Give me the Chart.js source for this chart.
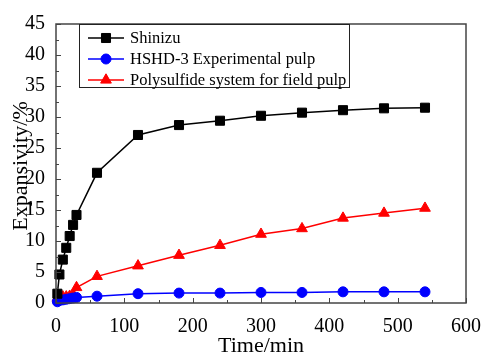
<!DOCTYPE html>
<html>
<head>
<meta charset="utf-8">
<script src="https://cdn.jsdelivr.net/npm/chart.js@4.4.0/dist/chart.umd.min.js"></script>
<style>
html, body { margin: 0; padding: 0; background: #fff; }
</style>
</head>
<body>
<canvas id="expChart" width="485" height="354"></canvas>
<script>
const times = [2, 5, 10, 15, 20, 25, 30, 60, 120, 180, 240, 300, 360, 420, 480, 540];
const shinizu = [1.5, 4.6, 7.0, 8.9, 10.8, 12.6, 14.2, 21.0, 27.1, 28.7, 29.4, 30.2, 30.7, 31.1, 31.4, 31.5];
const hshd3 = [0.2, 0.4, 0.5, 0.6, 0.7, 0.8, 0.9, 1.1, 1.5, 1.6, 1.6, 1.7, 1.7, 1.8, 1.8, 1.8];
const polysulfide = [0.8, 0.9, 1.0, 1.0, 1.1, 1.3, 2.5, 4.3, 6.0, 7.7, 9.3, 11.1, 12.0, 13.7, 14.5, 15.3];
const seriesNames = ['Shinizu', 'HSHD-3 Experimental pulp', 'Polysulfide system for field pulp'];
const xTicks = [0, 100, 200, 300, 400, 500, 600];
const yTicks = [0, 5, 10, 15, 20, 25, 30, 35, 40, 45];
const xTitle = 'Time/min';
const yTitle = 'Expansivity/%';

const FONT = '"Liberation Serif", "Times New Roman", serif';
const AXIS = '#444';

const toPoints = vals => vals.map((v, i) => ({ x: times[i], y: v }));

const makeSet = (label, vals, color, style, radius) => ({
    label,
    data: toPoints(vals),
    borderColor: color,
    backgroundColor: color,
    borderWidth: 1.5,
    pointStyle: style,
    pointRadius: radius,
    pointHoverRadius: radius,
    pointBorderWidth: 1,
    showLine: true,
    clip: false
});

// draws one marker the same way chart.js does
const marker = (ctx, style, x, y, r, color) => {
    ctx.save();
    ctx.fillStyle = color;
    ctx.strokeStyle = color;
    ctx.lineWidth = 1;
    ctx.beginPath();
    if (style === 'rect') {
        const s = Math.SQRT1_2 * r;
        ctx.rect(x - s, y - s, 2 * s, 2 * s);
    } else if (style === 'circle') {
        ctx.arc(x, y, r, 0, Math.PI * 2);
    } else {
        ctx.moveTo(x, y - r);
        ctx.lineTo(x + r * Math.sin(Math.PI * 2 / 3), y - r * Math.cos(Math.PI * 2 / 3));
        ctx.lineTo(x + r * Math.sin(Math.PI * 4 / 3), y - r * Math.cos(Math.PI * 4 / 3));
        ctx.closePath();
    }
    ctx.fill();
    ctx.stroke();
    ctx.restore();
};

const framePlugin = {
    id: 'frame',
    afterDraw(chart) {
        const { ctx, chartArea: a, scales } = chart;
        const xs = scales.x, ys = scales.y;
        ctx.save();
        ctx.strokeStyle = AXIS;
        ctx.lineWidth = 1.5;
        ctx.strokeRect(a.left, a.top, a.right - a.left, a.bottom - a.top);

        ctx.lineWidth = 1;
        ctx.beginPath();
        for (let v = 0; v <= 600; v += 50) {
            const px = Math.round(xs.getPixelForValue(v)) + 0.5;
            const len = v % 100 === 0 ? 5 : 3;
            ctx.moveTo(px, a.bottom);
            ctx.lineTo(px, a.bottom - len);
        }
        for (let v = 0; v <= 45; v += 2.5) {
            const py = Math.round(ys.getPixelForValue(v)) + 0.5;
            const len = v % 5 === 0 ? 5 : 3;
            ctx.moveTo(a.left, py);
            ctx.lineTo(a.left + len, py);
        }
        ctx.stroke();

        // axis titles
        ctx.fillStyle = '#000';
        ctx.font = '22px ' + FONT;
        ctx.textAlign = 'center';
        ctx.textBaseline = 'alphabetic';
        ctx.fillText(xTitle, (a.left + a.right) / 2, 352);
        ctx.translate(27, 166);
        ctx.rotate(-Math.PI / 2);
        ctx.fillText(yTitle, 0, 0);
        ctx.restore();

        // legend
        ctx.save();
        ctx.strokeStyle = '#222';
        ctx.lineWidth = 1;
        ctx.fillStyle = '#fff';
        ctx.fillRect(79.5, 24.5, 270, 63);
        ctx.strokeRect(79.5, 24.5, 270, 63);
        ctx.font = '16.5px ' + FONT;
        ctx.textAlign = 'left';
        ctx.textBaseline = 'middle';
        chart.data.datasets.forEach((ds, i) => {
            const y = 38 + i * 21;
            ctx.strokeStyle = ds.borderColor;
            ctx.lineWidth = 1.5;
            ctx.beginPath();
            ctx.moveTo(88, y);
            ctx.lineTo(124, y);
            ctx.stroke();
            marker(ctx, ds.pointStyle, 106, y, ds.pointRadius, ds.backgroundColor);
            ctx.fillStyle = '#000';
            ctx.fillText(ds.label, 130, y + 1);
        });
        ctx.restore();
    }
};

new Chart(document.getElementById('expChart'), {
    type: 'scatter',
    data: {
        datasets: [
            makeSet(seriesNames[0], shinizu, '#000000', 'rect', 6.4),
            makeSet(seriesNames[1], hshd3, '#0000ff', 'circle', 5),
            makeSet(seriesNames[2], polysulfide, '#ff0000', 'triangle', 6.2)
        ]
    },
    options: {
        responsive: false,
        animation: false,
        devicePixelRatio: 1,
        layout: { padding: { left: 0, right: 19, top: 24, bottom: 0 } },
        plugins: {
            legend: { display: false },
            tooltip: { enabled: false }
        },
        scales: {
            x: {
                type: 'linear',
                min: 0,
                max: 600,
                afterBuildTicks: s => { s.ticks = xTicks.map(v => ({ value: v })); },
                afterFit: s => { s.height = 51; s.paddingLeft = 0; s.paddingRight = 0; },
                grid: { display: false },
                border: { display: false },
                ticks: {
                    padding: 4,
                    color: '#000',
                    font: { family: FONT, size: 20 }
                }
            },
            y: {
                type: 'linear',
                min: 0,
                max: 45,
                afterBuildTicks: s => { s.ticks = yTicks.map(v => ({ value: v })); },
                afterFit: s => { s.width = 56; s.paddingTop = 0; s.paddingBottom = 0; },
                grid: { display: false },
                border: { display: false },
                ticks: {
                    padding: 3,
                    color: '#000',
                    font: { family: FONT, size: 20 }
                }
            }
        }
    },
    plugins: [framePlugin]
});
</script>
</body>
</html>
